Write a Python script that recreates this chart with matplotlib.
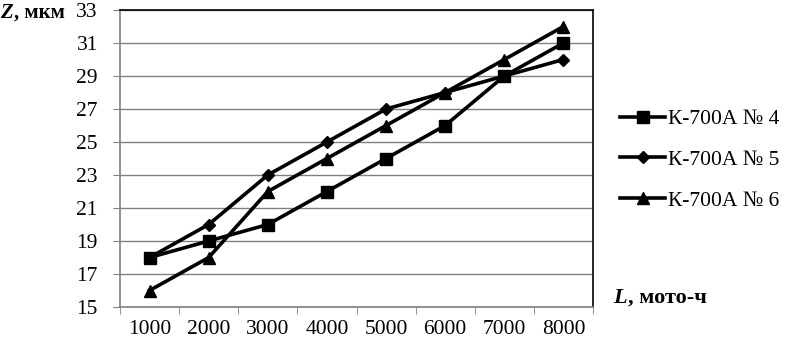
import matplotlib
matplotlib.use("Agg")
import matplotlib.pyplot as plt

categories = ["1000", "2000", "3000", "4000", "5000", "6000", "7000", "8000"]
s4 = [18, 19, 20, 22, 24, 26, 29, 31]
s5 = [18, 20, 23, 25, 27, 28, 29, 30]
s6 = [16, 18, 22, 24, 26, 28, 30, 32]
names = ["К-700А № 4", "К-700А № 5", "К-700А № 6"]
yticks = list(range(15, 34, 2))

plt.rcParams['font.family'] = ['Liberation Serif', 'DejaVu Serif']

W, H = 786, 344
fig = plt.figure(figsize=(W/100, H/100), dpi=100)
ax = fig.add_axes([120/W, 1-307/H, (593-120)/W, (307-10)/H])

x = list(range(len(categories)))
lw = 2.6
ax.plot(x, s4, color='black', lw=lw, marker='s', ms=8, label=names[0], zorder=3)
ax.plot(x, s5, color='black', lw=lw, marker='D', ms=6, label=names[1], zorder=3)
ax.plot(x, s6, color='black', lw=lw, marker='^', ms=9, label=names[2], zorder=3)

fs = 15.5
ax.set_xlim(-0.5, len(categories) - 0.5)
ax.set_ylim(15, 33)
ax.set_yticks(yticks)
ax.set_yticklabels([str(v) for v in yticks], fontsize=fs)
ax.set_xticks(x)
ax.set_xticklabels(categories, fontsize=fs)
ax.tick_params(axis='x', length=0, pad=9)
ax.set_xticks([i - 0.5 for i in range(len(categories) + 1)], minor=True)
ax.tick_params(axis='x', which='minor', length=5, color='#808080', direction='out')
ax.tick_params(axis='y', length=5, color='#808080', direction='out', pad=11)
ax.yaxis.grid(True, color='#808080', lw=1)
ax.set_axisbelow(True)
for side in ['top', 'right']:
    ax.spines[side].set_color('black')
    ax.spines[side].set_linewidth(1.2)
for side in ['left', 'bottom']:
    ax.spines[side].set_color('#808080')
    ax.spines[side].set_linewidth(1.2)

leg = ax.legend(loc='center left', frameon=False,
                fontsize=fs, handlelength=2.1, handletextpad=0.15,
                labelspacing=0.95, borderaxespad=0)
leg.set_bbox_to_anchor((1.039, 0.495), transform=ax.transAxes)

fig.canvas.draw()
r = fig.canvas.get_renderer()

def label(x0, yc, first, rest, size):
    t1 = fig.text(x0/W, 1-yc/H, first, fontsize=size, fontweight='bold',
                  style='italic', va='center', ha='left')
    bb = t1.get_window_extent(r)
    fig.text((bb.x1 + 1)/W, 1-yc/H, rest, fontsize=size, fontweight='bold',
             va='center', ha='left')

label(0, 13, "Z", ", мкм", 15)
label(613, 298, "L", ", мото-ч", 16)

fig.savefig("out.png", dpi=100)
